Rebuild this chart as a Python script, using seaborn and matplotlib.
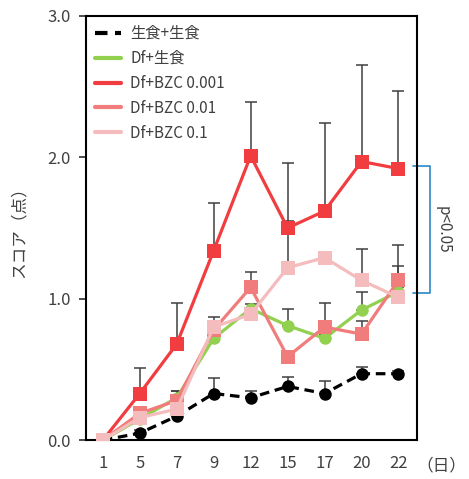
"""Score over days chart."""
import numpy as np
import pandas as pd
import seaborn as sns
import matplotlib
matplotlib.use('Agg')
import matplotlib.pyplot as plt

# data
days = ['1', '5', '7', '9', '12', '15', '17', '20', '22']
series_names = ['生食+生食', 'Df+生食', 'Df+BZC 0.001', 'Df+BZC 0.01', 'Df+BZC 0.1']
raw_raw = [0, 0.05, 0.17, 0.33, 0.30, 0.38, 0.33, 0.47, 0.47]
df_raw = [0, 0.15, 0.30, 0.72, 0.93, 0.81, 0.72, 0.92, 1.05]
bzc_0001 = [0, 0.33, 0.68, 1.34, 2.01, 1.50, 1.62, 1.97, 1.92]
bzc_001 = [0, 0.19, 0.28, 0.78, 1.08, 0.59, 0.80, 0.75, 1.13]
bzc_01 = [0, 0.16, 0.22, 0.80, 0.89, 1.22, 1.29, 1.13, 1.01]
# upward error (SE)
err_raw_raw = [0, 0.02, 0.02, 0.11, 0.05, 0.07, 0.09, 0.05, 0.02]
err_df_raw = [0, 0.02, 0.05, 0.03, 0.03, 0.12, 0.03, 0.13, 0.03]
err_0001 = [0, 0.18, 0.29, 0.34, 0.38, 0.46, 0.62, 0.68, 0.55]
err_001 = [0, 0.04, 0.07, 0.03, 0.11, 0.03, 0.17, 0.09, 0.10]
err_01 = [0, 0.03, 0.03, 0.07, 0.03, 0.33, 0.03, 0.22, 0.37]
bracket_top, bracket_bottom = 1.94, 1.04

values = [raw_raw, df_raw, bzc_0001, bzc_001, bzc_01]
errors = [err_raw_raw, err_df_raw, err_0001, err_001, err_01]
colors = ['#000000', '#92D050', '#F23D40', '#F07C7C', '#F4BCBC']
markers = ['o', 'o', 's', 's', 's']
msizes = [9, 9, 10, 10, 10]

sns.set_theme(style='white')
plt.rcParams['font.family'] = ['Noto Sans CJK JP', 'DejaVu Sans']

fig = plt.figure(figsize=(4.69, 4.79), dpi=100)
ax = fig.add_axes([0.183, 0.081, 0.706, 0.886])

pos = np.arange(len(days))
for i, (name, vals, err) in enumerate(zip(series_names, values, errors)):
    ax.errorbar(pos, vals, yerr=[np.zeros(len(err)), err], fmt='none',
                ecolor='#404040', elinewidth=1.1, capsize=4, capthick=1.1,
                zorder=1)
    d = pd.DataFrame({'x': pos, 'y': vals})
    sns.lineplot(data=d, x='x', y='y', ax=ax, color=colors[i], lw=2.3,
                 marker=markers[i], markersize=msizes[i], markeredgewidth=0,
                 label=name, zorder=2 + i,
                 linestyle=(0, (3, 1.8)) if i == 0 else '-')

ax.set_xlim(-0.46, 8.5)
ax.set_ylim(0, 3.0)
ax.set_xticks(pos)
ax.set_xticklabels(days)
ax.set_yticks([0, 1, 2, 3])
ax.set_yticklabels(['0.0', '1.0', '2.0', '3.0'])
ax.tick_params(axis='x', length=0, pad=11, labelsize=12, colors='#404040')
ax.tick_params(axis='y', length=5, width=1.3, pad=6, labelsize=12,
               colors='#404040', left=True, direction='out')
for s in ax.spines.values():
    s.set_color('black')
    s.set_linewidth(1.5)
ax.set_xlabel('')
ax.set_ylabel('スコア（点）', fontsize=12, color='#404040', labelpad=14)
ax.text(9.15, -0.18, '（日）', fontsize=12, color='#404040',
        ha='center', va='center', clip_on=False)

# significance bracket
ax.plot([8.4, 8.85, 8.85, 8.4], [bracket_top, bracket_top, bracket_bottom, bracket_bottom],
        color='#2E86C8', lw=1.2, clip_on=False)
ax.text(9.2, (bracket_top + bracket_bottom) / 2, 'p<0.05', rotation=-90,
        fontsize=11, color='#404040', ha='center', va='center')

leg = ax.legend(loc='upper left', frameon=False, fontsize=11,
                handlelength=1.7, handletextpad=0.6, labelspacing=0.52,
                bbox_to_anchor=(0.0, 1.0), borderaxespad=0.2)
for h in leg.get_lines():
    h.set_marker('')
    h.set_linewidth(3)
for t in leg.get_texts():
    t.set_color('#404040')

fig.savefig('out.png', dpi=100)
